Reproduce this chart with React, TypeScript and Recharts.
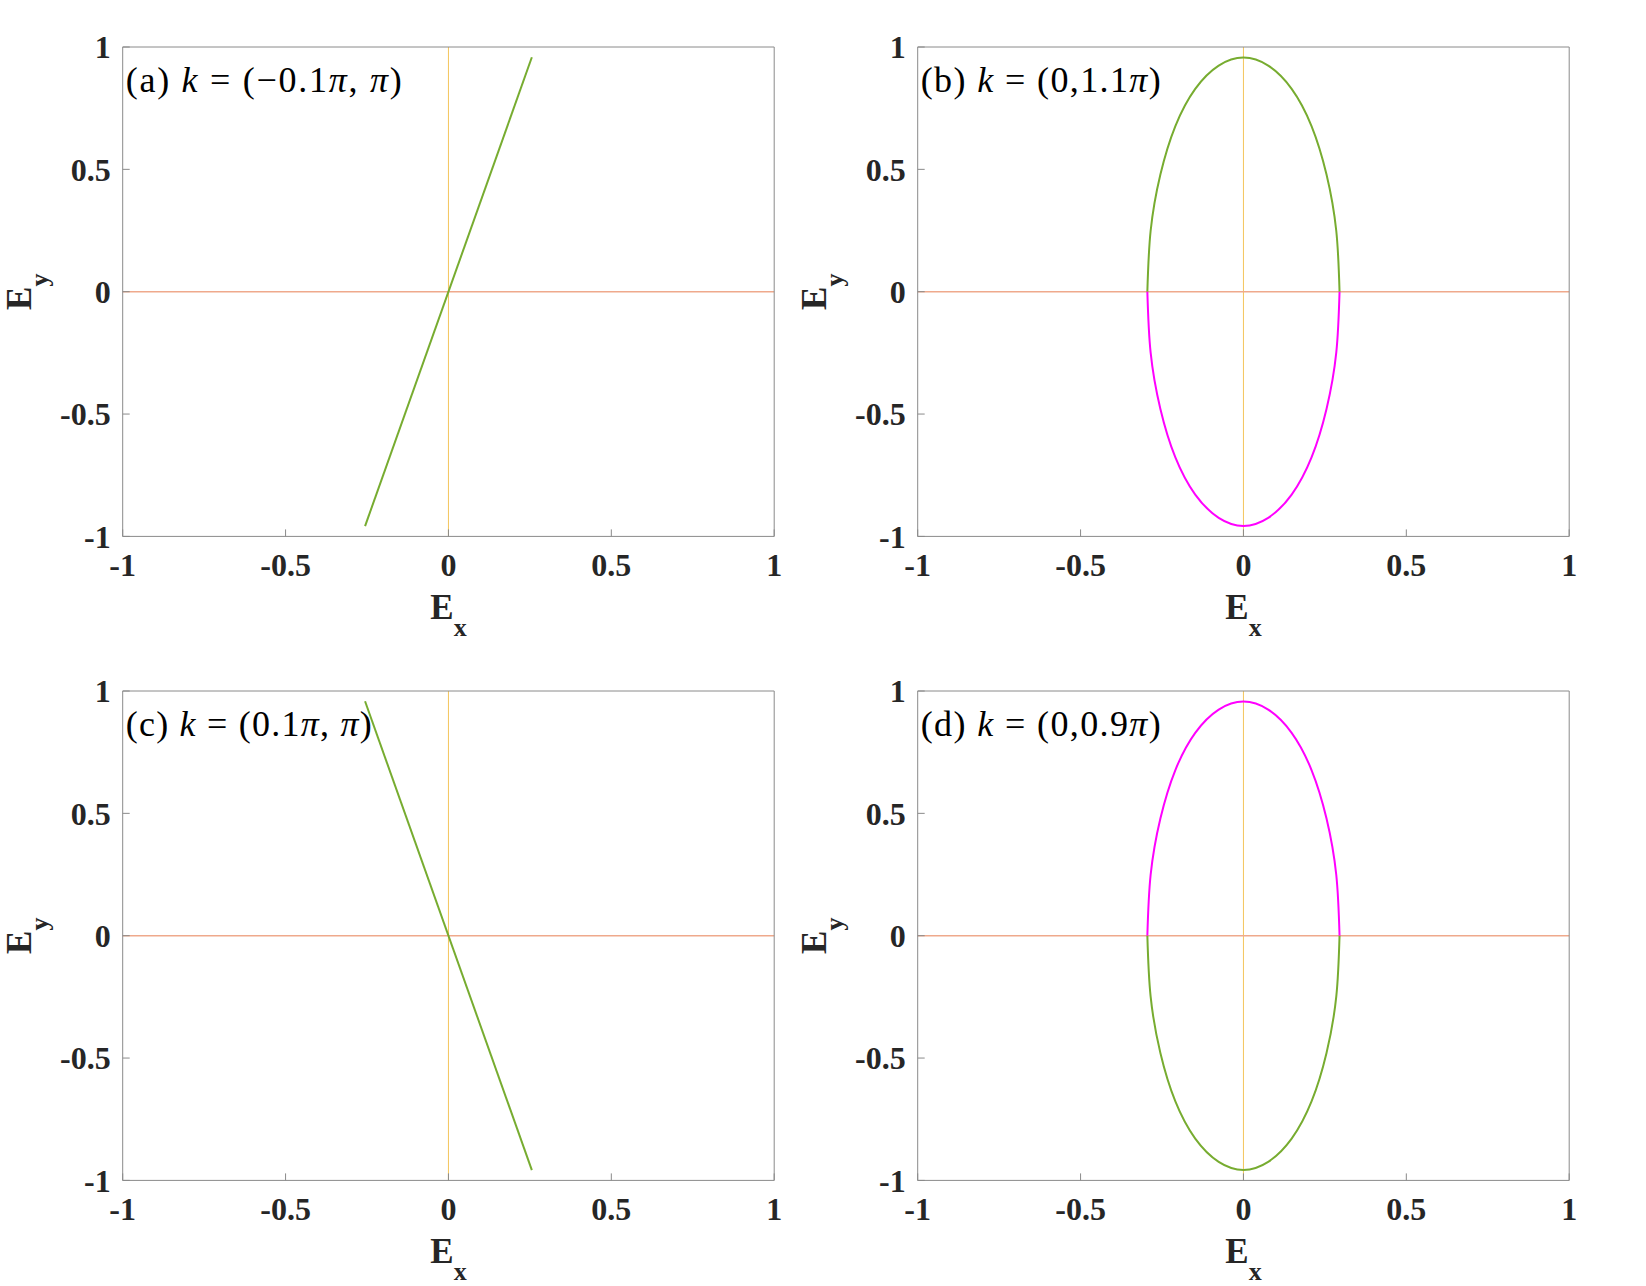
import { Line, LineChart, ReferenceLine, XAxis, YAxis } from "recharts";

// tick values shared by both axes of every panel
const TICKS = [-1, -0.5, 0, 0.5, 1];

const TITLES = ["(a) k = (−0.1π, π)", "(b) k = (0,1.1π)", "(c) k = (0.1π, π)", "(d) k = (0,0.9π)"];
const TITLE_WIDTHS = [276, 240, 246, 240];

// straight polarisation lines, panels (a) and (c)
const LINE_A_X = [-0.256, 0.256];
const LINE_A_Y = [-0.958, 0.958];
const LINE_C_X = [-0.256, 0.256];
const LINE_C_Y = [0.958, -0.958];

// ellipse halves, panels (b) and (d)
const ELLIPSE_X = [-0.295, -0.285, -0.255, -0.209, -0.148, -0.076, 0, 0.076, 0.148, 0.209, 0.255, 0.285, 0.295];
const ELLIPSE_TOP_Y = [0, 0.248, 0.479, 0.677, 0.829, 0.924, 0.957, 0.924, 0.829, 0.677, 0.479, 0.248, 0];
const ELLIPSE_BOTTOM_Y = [0, -0.248, -0.479, -0.677, -0.829, -0.924, -0.957, -0.924, -0.829, -0.677, -0.479, -0.248, 0];

const GREEN = "#77AC30";
const MAGENTA = "#FF00FF";

const toPoints = (xs: number[], ys: number[]) => xs.map((x, i) => ({ x, y: ys[i] }));

type Segment = { data: { x: number; y: number }[]; color: string; curve: "linear" | "natural" };

const PANELS: { left: number; top: number; segments: Segment[] }[] = [
  { left: 0, top: 0, segments: [{ data: toPoints(LINE_A_X, LINE_A_Y), color: GREEN, curve: "linear" }] },
  {
    left: 794.6,
    top: 0,
    segments: [
      { data: toPoints(ELLIPSE_X, ELLIPSE_TOP_Y), color: GREEN, curve: "natural" },
      { data: toPoints(ELLIPSE_X, ELLIPSE_BOTTOM_Y), color: MAGENTA, curve: "natural" },
    ],
  },
  { left: 0, top: 644, segments: [{ data: toPoints(LINE_C_X, LINE_C_Y), color: GREEN, curve: "linear" }] },
  {
    left: 794.6,
    top: 644,
    segments: [
      { data: toPoints(ELLIPSE_X, ELLIPSE_TOP_Y), color: MAGENTA, curve: "natural" },
      { data: toPoints(ELLIPSE_X, ELLIPSE_BOTTOM_Y), color: GREEN, curve: "natural" },
    ],
  },
];

const CW = 820;
const CH = 700;
const PLOT_LEFT = 122.7;
const PLOT_TOP = 47;
const PLOT_W = 651.5;
const PLOT_H = 489.4;
const Y_AXIS_W = 80;
const X_AXIS_H = 60;

const MARGIN = {
  left: PLOT_LEFT - Y_AXIS_W,
  top: PLOT_TOP - 1,
  right: CW - PLOT_LEFT - PLOT_W - 1,
  bottom: CH - PLOT_TOP - PLOT_H - X_AXIS_H,
};

const FRAME = "#8a8a8a";
const TICK_FONT = { fontFamily: "Liberation Serif", fontWeight: "bold", fontSize: 32, fill: "#262626" };
const fmt = (v: number) => String(v);

const renderTitle = (title: string, width: number) => (props: any) => {
  const vb = props.viewBox;
  const parts = title.split(/([kπ])/);
  return (
    <text
      x={vb.x + 3}
      y={vb.y + vb.height + 44.5}
      fontFamily="Liberation Serif"
      fontSize={36}
      fill="#000"
      textLength={width}
      lengthAdjust="spacing"
    >
      {parts.map((p, i) =>
        p === "k" || p === "π" ? (
          <tspan key={i} fontStyle="italic">
            {p}
          </tspan>
        ) : (
          <tspan key={i}>{p}</tspan>
        ),
      )}
    </text>
  );
};

const renderXLabel = (props: any) => {
  const vb = props.viewBox;
  return (
    <text
      x={vb.x + vb.width / 2}
      y={vb.y + 83}
      textAnchor="middle"
      fontFamily="Liberation Serif"
      fontWeight="bold"
      fill="#262626"
    >
      <tspan fontSize={35}>E</tspan>
      <tspan fontSize={26} dy={17}>
        x
      </tspan>
    </text>
  );
};

const renderYLabel = (props: any) => {
  const vb = props.viewBox;
  const cx = vb.x + vb.width - 92;
  const cy = vb.y + vb.height / 2;
  return (
    <text
      x={cx}
      y={cy}
      textAnchor="middle"
      transform={`rotate(-90, ${cx}, ${cy})`}
      fontFamily="Liberation Serif"
      fontWeight="bold"
      fill="#262626"
    >
      <tspan fontSize={35}>E</tspan>
      <tspan fontSize={26} dy={17}>
        y
      </tspan>
    </text>
  );
};

const Panel = ({ index }: { index: number }) => {
  const panel = PANELS[index];
  return (
    <div style={{ position: "absolute", left: panel.left, top: panel.top }}>
      <LineChart width={CW} height={CH} margin={MARGIN}>
        <XAxis
          xAxisId="bottom"
          dataKey="x"
          type="number"
          domain={[-1, 1]}
          ticks={TICKS}
          allowDataOverflow
          height={X_AXIS_H}
          stroke={FRAME}
          tickSize={-7}
          tickMargin={24}
          tick={TICK_FONT}
          tickFormatter={fmt}
          interval={0}
          label={{ content: renderXLabel }}
        />
        <XAxis
          xAxisId="top"
          orientation="top"
          type="number"
          domain={[-1, 1]}
          ticks={TICKS}
          allowDataOverflow
          height={1}
          stroke={FRAME}
          tickSize={-7}
          tick={false}
          label={{ content: renderTitle(TITLES[index], TITLE_WIDTHS[index]) }}
        />
        <YAxis
          yAxisId="left"
          type="number"
          domain={[-1, 1]}
          ticks={TICKS}
          allowDataOverflow
          width={Y_AXIS_W}
          stroke={FRAME}
          tickSize={-7}
          tickMargin={19}
          tick={TICK_FONT}
          tickFormatter={fmt}
          interval={0}
          label={{ content: renderYLabel }}
        />
        <YAxis
          yAxisId="right"
          orientation="right"
          type="number"
          domain={[-1, 1]}
          ticks={TICKS}
          allowDataOverflow
          width={1}
          stroke={FRAME}
          tickSize={-7}
          tick={false}
        />
        <ReferenceLine xAxisId="bottom" yAxisId="left" x={0} stroke="#F4C55C" strokeWidth={1} />
        <ReferenceLine xAxisId="bottom" yAxisId="left" y={0} stroke="#EFA98C" strokeWidth={1.4} />
        {panel.segments.map((s, i) => (
          <Line
            key={i}
            xAxisId="bottom"
            yAxisId="left"
            data={s.data}
            dataKey="y"
            type={s.curve}
            stroke={s.color}
            strokeWidth={2}
            dot={false}
            activeDot={false}
            isAnimationActive={false}
          />
        ))}
      </LineChart>
    </div>
  );
};

export default function App() {
  return (
    <div style={{ position: "absolute", left: 0, top: 0, width: 1646, height: 1286, background: "#fff" }}>
      {PANELS.map((_, i) => (
        <Panel key={i} index={i} />
      ))}
    </div>
  );
}
